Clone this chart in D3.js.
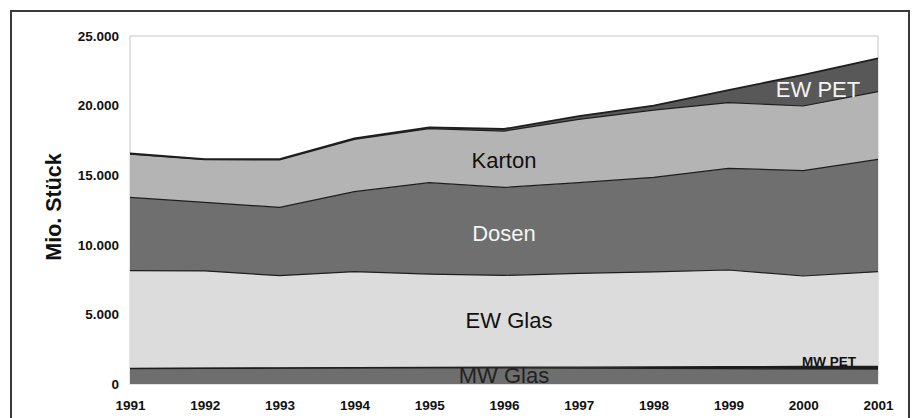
<!DOCTYPE html>
<html>
<head>
<meta charset="utf-8">
<script src="https://cdn.jsdelivr.net/npm/d3@7"></script>
<style>
  body { margin: 0; background: #fff; }
  svg text { font-family: "Liberation Sans", Arial, Helvetica, sans-serif; }
</style>
</head>
<body>
<div id="chart"></div>
<script>
// data (Mio. Stück)
var years    = [1991, 1992, 1993, 1994, 1995, 1996, 1997, 1998, 1999, 2000, 2001];
var mwGlas   = [1100, 1120, 1130, 1150, 1150, 1150, 1130, 1120, 1100, 1080, 1060];
var mwPet    = [20, 20, 30, 30, 50, 60, 80, 110, 150, 180, 200];
var ewGlas   = [7020, 6980, 6620, 6890, 6700, 6590, 6740, 6820, 6940, 6500, 6810];
var dosen    = [5270, 4930, 4910, 5750, 6560, 6320, 6510, 6800, 7300, 7570, 8070];
var karton   = [3100, 3060, 3410, 3750, 3880, 4050, 4550, 4830, 4720, 4640, 4860];
var ewPet    = [50, 50, 50, 80, 100, 150, 240, 320, 910, 2230, 2400];
var yTicks   = [0, 5000, 10000, 15000, 20000, 25000];

var seriesKeys   = ['mwGlas', 'mwPet', 'ewGlas', 'dosen', 'karton', 'ewPet'];
var seriesFill   = {mwGlas: '#6e6e6e', mwPet: '#1a1a1a', ewGlas: '#dcdcdc',
                    dosen: '#6f6f6f', karton: '#b4b4b4', ewPet: '#585858'};

var W = 912, H = 418;
var margin = {left: 130, top: 36, right: 34, bottom: 34};

var rows = years.map(function(y, i) {
    return {year: y, mwGlas: mwGlas[i], mwPet: mwPet[i], ewGlas: ewGlas[i],
            dosen: dosen[i], karton: karton[i], ewPet: ewPet[i]};
});

var svg = d3.select('#chart').append('svg')
    .attr('width', W).attr('height', H);

// outer frame
svg.append('rect')
    .attr('x', 11).attr('y', 11).attr('width', 898).attr('height', H + 20)
    .attr('fill', 'none').attr('stroke', '#3a3a3a').attr('stroke-width', 2);

var x = d3.scaleLinear().domain([1991, 2001]).range([margin.left, W - margin.right]);
var y = d3.scaleLinear().domain([0, 25000]).range([H - margin.bottom, margin.top]);

// plot area border (top/right light grey)
svg.append('rect')
    .attr('x', x(1991)).attr('y', y(25000))
    .attr('width', x(2001) - x(1991)).attr('height', y(0) - y(25000))
    .attr('fill', '#fff').attr('stroke', '#c8c8c8').attr('stroke-width', 1);

var stack = d3.stack().keys(seriesKeys);
var layers = stack(rows);

var area = d3.area()
    .x(function(d) { return x(d.data.year); })
    .y0(function(d) { return y(d[0]); })
    .y1(function(d) { return y(d[1]); });

var line = d3.line()
    .x(function(d) { return x(d.data.year); })
    .y(function(d) { return y(d[1]); });

svg.append('g').selectAll('path')
    .data(layers).enter().append('path')
    .attr('d', area)
    .attr('fill', function(d) { return seriesFill[d.key]; });

svg.append('g').selectAll('path')
    .data(layers).enter().append('path')
    .attr('d', line)
    .attr('fill', 'none')
    .attr('stroke', '#1e1e1e')
    .attr('stroke-width', function(d) { return d.key === 'ewPet' ? 1.8 : 1.2; });

// axes
var yAxis = d3.axisLeft(y).tickValues(yTicks).tickSize(0).tickPadding(11)
    .tickFormat(function(d) { return d === 0 ? '0' : d3.format(',')(d).replace(/,/g, '.'); });
var gy = svg.append('g').attr('transform', 'translate(' + x(1991) + ',0)').call(yAxis);
gy.select('.domain').remove();
gy.selectAll('text').attr('font-size', 13.5).attr('font-weight', 'bold').attr('fill', '#111');

var xAxis = d3.axisBottom(x).tickValues(years).tickSize(0).tickPadding(16)
    .tickFormat(d3.format('d'));
var gx = svg.append('g').attr('transform', 'translate(0,' + y(0) + ')').call(xAxis);
gx.select('.domain').remove();
gx.selectAll('text').attr('font-size', 13.5).attr('font-weight', 'bold').attr('fill', '#111');

// axis title
svg.append('text')
    .attr('transform', 'translate(61,' + 207 + ') rotate(-90)')
    .attr('text-anchor', 'middle')
    .attr('font-size', 21.5).attr('font-weight', 'bold').attr('fill', '#111')
    .text('Mio. Stück');

// series labels
var labels = [
    {t: 'Karton',  x: 504, y: 168, c: '#111', s: 22, w: 'normal'},
    {t: 'Dosen',   x: 504, y: 241, c: '#f4f4f4', s: 22, w: 'normal'},
    {t: 'EW Glas', x: 509, y: 328, c: '#111', s: 22, w: 'normal'},
    {t: 'MW Glas', x: 504, y: 383, c: '#222', s: 22, w: 'normal'},
    {t: 'EW PET',  x: 818, y: 97,  c: '#f4f4f4', s: 22, w: 'normal'},
    {t: 'MW PET',  x: 829, y: 366, c: '#111', s: 13.5, w: 'bold'}
];
svg.append('g').selectAll('text')
    .data(labels).enter().append('text')
    .attr('x', function(d) { return d.x; })
    .attr('y', function(d) { return d.y; })
    .attr('text-anchor', 'middle')
    .attr('font-size', function(d) { return d.s; })
    .attr('font-weight', function(d) { return d.w; })
    .attr('fill', function(d) { return d.c; })
    .text(function(d) { return d.t; });
</script>
</body>
</html>
